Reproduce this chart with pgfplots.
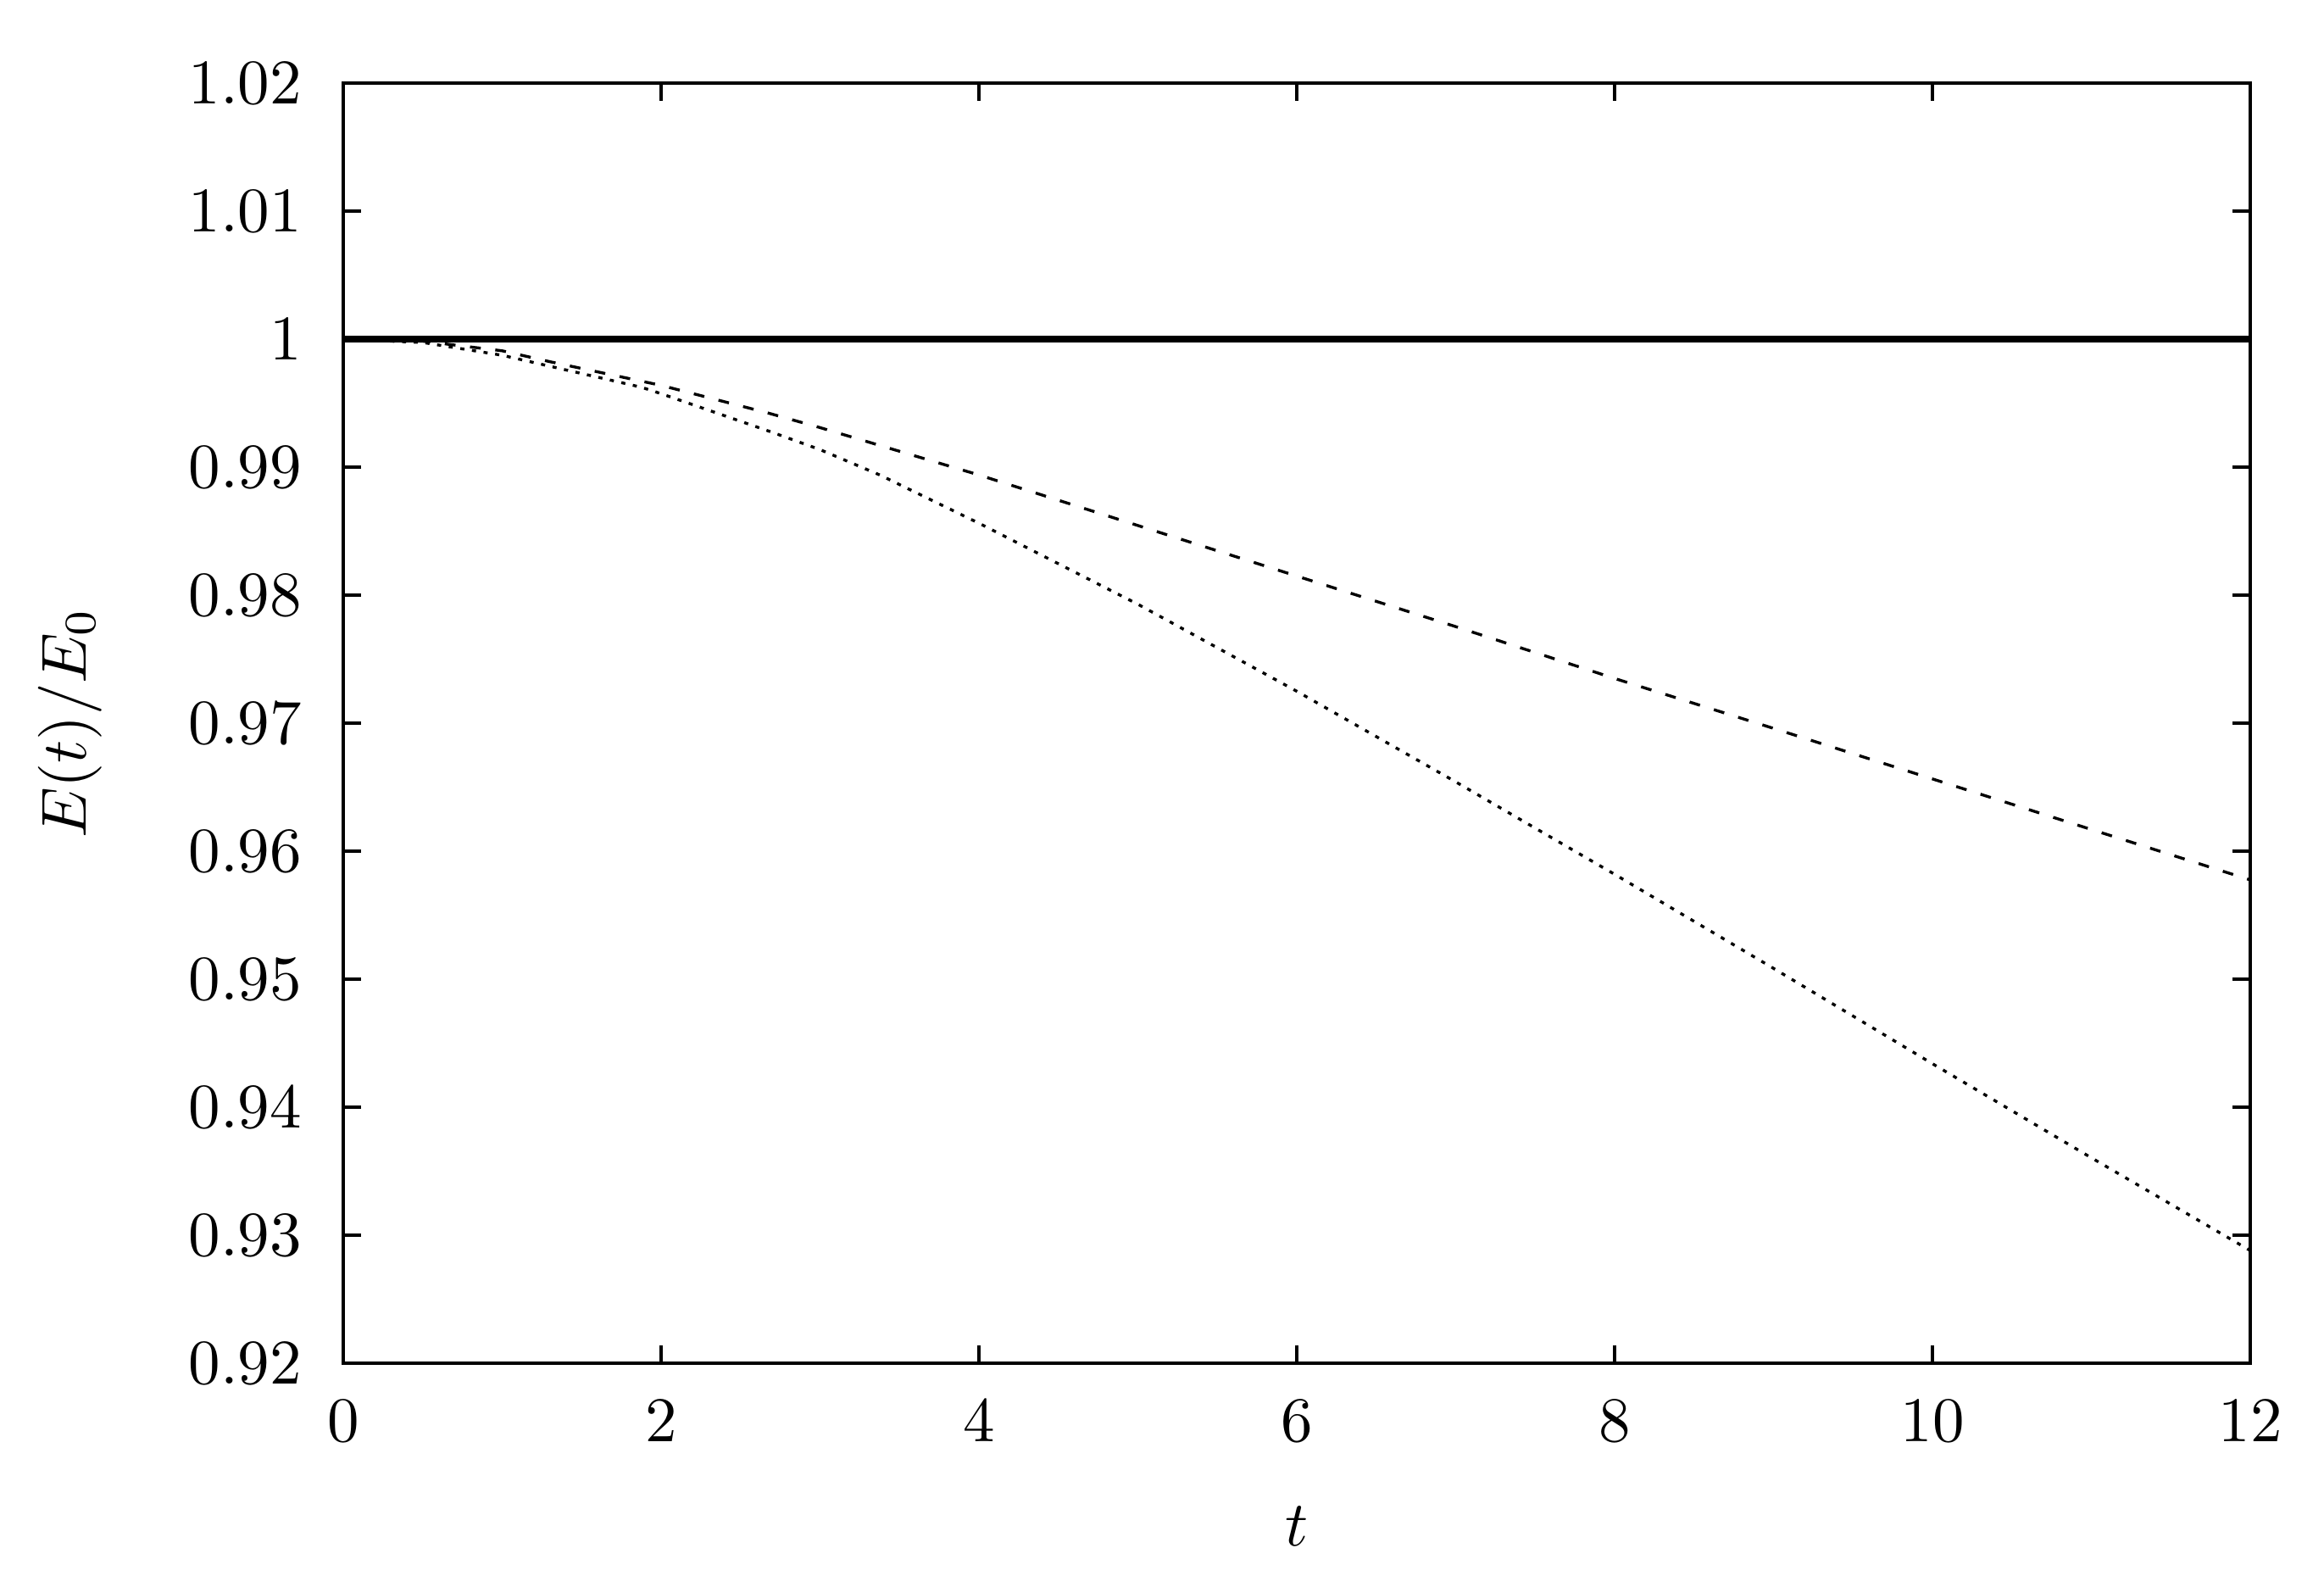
\documentclass[border=0pt]{standalone}
\usepackage{pgfplots}
\pgfplotsset{compat=1.18}

\begin{document}
\begin{tikzpicture}
\useasboundingbox (-54pt,-35.1pt) rectangle (311.6pt,214.4pt);
\begin{axis}[
    at={(0pt,0pt)}, anchor=south west,
    scale only axis,
    width=300pt, height=201.3pt,
    xmin=0, xmax=12, ymin=0.92, ymax=1.02,
    xtick={0,2,4,6,8,10,12},
    ytick={0.92,0.93,0.94,0.95,0.96,0.97,0.98,0.99,1,1.01,1.02},
    scaled y ticks=false,
    tick align=inside,
    major tick length=2.8pt,
    axis line style={line width=0.5pt},
    every tick/.style={line width=0.5pt, black},
    xticklabel style={yshift=-2.3pt},
    yticklabel style={xshift=-3pt},
    xlabel={$t$},
    ylabel={$E(t)/E_0$},
    every axis x label/.style={at={(axis description cs:0.5,0)}, anchor=center, yshift=-25.6pt},
    every axis y label/.style={at={(axis description cs:0,0.5)}, anchor=center, xshift=-43pt, rotate=90},
]
% reference level
\addplot[black, line width=1pt] coordinates {(0,1) (12,1)};

% dashed run
\addplot[black, line width=0.45pt, dash pattern=on 1.7pt off 2.3pt] coordinates {
(0,1.0) (0.5,0.99985) (1,0.9991) (1.307,0.99823) (2,0.99640) (2.667,0.99426)
(3,0.99310) (4,0.98940) (5,0.98545) (6,0.98150) (7,0.97755) (8,0.97350)
(9,0.96960) (10,0.96565) (11,0.96170) (12,0.95776)
};

% dotted run
\addplot[black, line width=0.45pt, dash pattern=on 0.65pt off 1.2pt] coordinates {
(0,1.0) (0.5,0.99975) (1,0.99875) (1.877,0.99625) (2,0.99575) (2.693,0.99276)
(3,0.99138) (3.376,0.98940) (4,0.98563) (5,0.97930) (6,0.97250) (7,0.96542)
(8,0.95820) (9,0.95085) (10,0.94340) (11,0.93605) (12,0.92880)
};
\end{axis}
\end{tikzpicture}
\end{document}
